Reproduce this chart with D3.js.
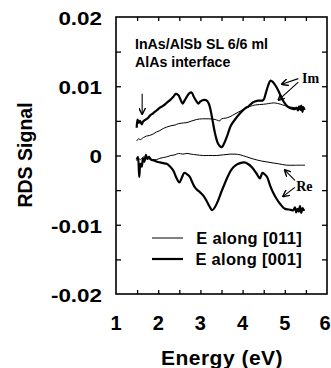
<!DOCTYPE html>
<html>
<head>
<meta charset="utf-8">
<script src="https://cdn.jsdelivr.net/npm/d3@7"></script>
<style>
body{margin:0;background:#fff;}
text{font-family:"Liberation Sans",Arial,sans-serif;font-weight:bold;fill:#000;}
.serif{font-family:"Liberation Serif","Times New Roman",serif;}
</style>
</head>
<body>
<div id="chart"></div>
<script>
// axis ticks
const xTicks=[1,2,3,4,5,6];
const xMinor=[1.5,2,2.5,3,3.5,4,4.5,5,5.5];
const yTicks=[0.02,0.01,0,-0.01,-0.02];
const yMinor=[0.015,0.01,0.005,0,-0.005,-0.01,-0.015];
const yLabels=["0.02","0.01","0","-0.01","-0.02"];

// Im, E along [001] (thick)
const imThick=[[1.49,0.0040],[1.51,0.0052],[1.54,0.0047],[1.57,0.0050],[1.61,0.0045],[1.64,0.0049],[1.68,0.0051],[1.73,0.0053],[1.77,0.0055],[1.81,0.0058],[1.88,0.0061],[1.96,0.0065],[2.04,0.0069],[2.12,0.0072],[2.2,0.0076],[2.28,0.0080],[2.36,0.0085],[2.42,0.0089],[2.48,0.0087],[2.52,0.0082],[2.58,0.0075],[2.63,0.0080],[2.68,0.0085],[2.74,0.0090],[2.79,0.0091],[2.85,0.0084],[2.9,0.0079],[2.95,0.0075],[3.0,0.0078],[3.06,0.0080],[3.16,0.0079],[3.21,0.0073],[3.25,0.0063],[3.29,0.0050],[3.35,0.0031],[3.42,0.0017],[3.5,0.0012],[3.58,0.0020],[3.65,0.0031],[3.72,0.0043],[3.82,0.0052],[3.94,0.0061],[4.06,0.0068],[4.14,0.0071],[4.25,0.0077],[4.35,0.0079],[4.49,0.0080],[4.55,0.0090],[4.61,0.0102],[4.66,0.0108],[4.72,0.0106],[4.79,0.0100],[4.85,0.0093],[4.92,0.0084],[4.98,0.0077],[5.06,0.0071],[5.15,0.0068],[5.24,0.0067],[5.28,0.0069],[5.31,0.0065],[5.34,0.0071],[5.37,0.0066],[5.39,0.0072],[5.42,0.0063],[5.44,0.0070],[5.47,0.0066]];

// Im, E along [011] (thin)
const imThin=[[1.49,0.0021],[1.53,0.0024],[1.58,0.0023],[1.65,0.0026],[1.72,0.0028],[1.8,0.0029],[1.88,0.0031],[1.96,0.0034],[2.04,0.0036],[2.12,0.0039],[2.2,0.0041],[2.3,0.0043],[2.4,0.0044],[2.48,0.0046],[2.6,0.0047],[2.71,0.0048],[2.8,0.0050],[2.91,0.0052],[3.05,0.0053],[3.2,0.0053],[3.35,0.0052],[3.46,0.0050],[3.5,0.0053],[3.6,0.0054],[3.7,0.0056],[3.82,0.0060],[3.94,0.0064],[4.06,0.0068],[4.18,0.0071],[4.3,0.0073],[4.5,0.0074],[4.62,0.0075],[4.75,0.0076],[4.9,0.0074],[5.0,0.0072],[5.12,0.0070],[5.25,0.0069],[5.35,0.0068],[5.47,0.0067]];

// Re, E along [001] (thick)
const reThick=[[1.49,-0.0006],[1.52,-0.0002],[1.55,-0.0031],[1.58,-0.0012],[1.61,-0.0016],[1.64,-0.0004],[1.67,-0.0009],[1.71,0.0001],[1.74,-0.0005],[1.78,-0.0002],[1.83,-0.0006],[1.9,-0.0007],[1.97,-0.0009],[2.04,-0.0010],[2.12,-0.0011],[2.2,-0.0012],[2.28,-0.0016],[2.36,-0.0022],[2.43,-0.0032],[2.5,-0.0039],[2.56,-0.0032],[2.62,-0.0025],[2.68,-0.0027],[2.75,-0.0031],[2.81,-0.0039],[2.87,-0.0046],[2.93,-0.0050],[2.99,-0.0053],[3.07,-0.0058],[3.15,-0.0066],[3.22,-0.0074],[3.28,-0.0079],[3.35,-0.0074],[3.42,-0.0065],[3.5,-0.0052],[3.58,-0.0040],[3.66,-0.0029],[3.74,-0.0020],[3.84,-0.0014],[3.94,-0.0011],[4.04,-0.0010],[4.12,-0.0012],[4.22,-0.0017],[4.33,-0.0026],[4.41,-0.0033],[4.47,-0.0025],[4.52,-0.0027],[4.58,-0.0031],[4.65,-0.0043],[4.72,-0.0053],[4.79,-0.0061],[4.89,-0.0070],[5.0,-0.0077],[5.1,-0.0078],[5.2,-0.0079],[5.24,-0.0075],[5.27,-0.0082],[5.3,-0.0077],[5.33,-0.0081],[5.36,-0.0073],[5.39,-0.0083],[5.42,-0.0076],[5.46,-0.0080]];

// Re, E along [011] (thin)
const reThin=[[1.49,-0.0008],[1.53,-0.0004],[1.58,-0.0006],[1.65,-0.0002],[1.72,-0.0004],[1.8,-0.0005],[1.88,-0.0006],[1.96,-0.0006],[2.04,-0.0004],[2.12,-0.0003],[2.2,-0.0002],[2.3,0.0000],[2.4,0.0001],[2.48,0.0003],[2.58,0.0002],[2.68,0.0003],[2.78,0.0002],[2.9,0.0001],[3.07,0.0000],[3.2,0.0000],[3.39,0.0000],[3.55,0.0001],[3.7,0.0002],[3.82,0.0002],[3.94,0.0001],[4.1,-0.0002],[4.25,-0.0005],[4.45,-0.0008],[4.65,-0.0010],[4.85,-0.0012],[5.05,-0.0014],[5.25,-0.0014],[5.48,-0.0014]];

const legendLabels=["E along [011]","E along [001]"];

const W=331,H=368;
const x=d3.scaleLinear().domain([1,6]).range([116,327]);
const y=d3.scaleLinear().domain([-0.02,0.02]).range([294,17]);

const svg=d3.select("#chart").append("svg").attr("width",W).attr("height",H);

// inward ticks on all four sides
svg.append("g").attr("transform","translate(0,294)")
   .call(d3.axisBottom(x).tickValues(xMinor).tickSize(-4).tickFormat(""));
svg.append("g").attr("transform","translate(0,17)")
   .call(d3.axisTop(x).tickValues(xMinor).tickSize(-4).tickFormat(""));
svg.append("g").attr("transform","translate(116,0)")
   .call(d3.axisLeft(y).tickValues(yMinor).tickSize(-5).tickFormat(""));
svg.append("g").attr("transform","translate(327,0)")
   .call(d3.axisRight(y).tickValues(yMinor).tickSize(-5).tickFormat(""));
svg.selectAll(".domain").remove();
svg.selectAll(".tick line").attr("stroke","#000").attr("stroke-width",1.3);

svg.append("rect").attr("x",x(1)).attr("y",y(0.02))
   .attr("width",x(6)-x(1)).attr("height",y(-0.02)-y(0.02))
   .attr("fill","none").attr("stroke","#000").attr("stroke-width",1.6);

// tick labels (last one nudged in so it is not clipped)
svg.selectAll(".xl").data(xTicks).enter().append("text")
   .attr("x",d=>Math.min(x(d),325)).attr("y",330).attr("text-anchor","middle")
   .style("font-size","20px").text(d=>d);
svg.selectAll(".yl").data(yTicks).enter().append("text")
   .attr("transform",d=>"translate(102,"+y(d)+") scale(1.18,1)")
   .attr("text-anchor","end").attr("dy","0.42em")
   .style("font-size","19px").text((d,i)=>yLabels[i]);

svg.append("text").attr("x",222).attr("y",365).attr("text-anchor","middle")
   .style("font-size","21px").style("letter-spacing","0.5px").text("Energy (eV)");
svg.append("text").attr("transform","translate(32,155) rotate(-90)")
   .attr("text-anchor","middle").style("font-size","19.5px").text("RDS Signal");

svg.append("text").attr("x",135).attr("y",49).style("font-size","14.2px").text("InAs/AlSb SL 6/6 ml");
svg.append("text").attr("x",135).attr("y",67).style("font-size","14.2px").text("AlAs interface");

// curves
const line=d3.line().x(d=>x(d[0])).y(d=>y(d[1])).curve(d3.curveCatmullRom.alpha(0.5));
const series=[[imThin,1],[reThin,1],[imThick,2.2],[reThick,2.2]];
series.forEach(s=>{
  svg.append("path").datum(s[0]).attr("d",line)
     .attr("fill","none").attr("stroke","#000").attr("stroke-width",s[1])
     .attr("stroke-linejoin","round");
});

// legend
const legY=[238,259];
legendLabels.forEach((t,i)=>{
  svg.append("line").attr("x1",152).attr("x2",183).attr("y1",legY[i]).attr("y2",legY[i])
     .attr("stroke","#000").attr("stroke-width",i==0?1:2.2);
  svg.append("text").attr("x",302).attr("y",legY[i]+6).attr("text-anchor","end")
     .style("font-size","16.5px").style("letter-spacing","0.3px").text(t);
});

// annotation arrows, in data units [E0,v0,E1,v1]
const arrows=[[1.62,0.0089,1.62,0.0060],[5.32,0.0111,4.93,0.0103],[5.32,0.0106,4.85,0.0080],[5.24,-0.0036,5.0,-0.0021],[5.24,-0.0046,4.96,-0.0059]];
svg.append("defs").append("marker").attr("id","ah").attr("viewBox","0 0 10 10")
   .attr("refX",9).attr("refY",5).attr("markerWidth",7).attr("markerHeight",7)
   .attr("orient","auto").attr("markerUnits","userSpaceOnUse")
   .append("path").attr("d","M0,0L10,5L0,10").attr("fill","none").attr("stroke","#000").attr("stroke-width",2);
arrows.forEach(a=>{
  svg.append("line").attr("x1",x(a[0])).attr("y1",y(a[1])).attr("x2",x(a[2])).attr("y2",y(a[3]))
     .attr("stroke","#000").attr("stroke-width",1.1).attr("marker-end","url(#ah)");
});
svg.append("text").attr("class","serif").attr("x",x(5.41)).attr("y",y(0.0105))
   .style("font-size","14px").text("Im");
svg.append("text").attr("class","serif").attr("x",x(5.27)).attr("y",y(-0.0051))
   .style("font-size","14px").text("Re");
</script>
</body>
</html>
